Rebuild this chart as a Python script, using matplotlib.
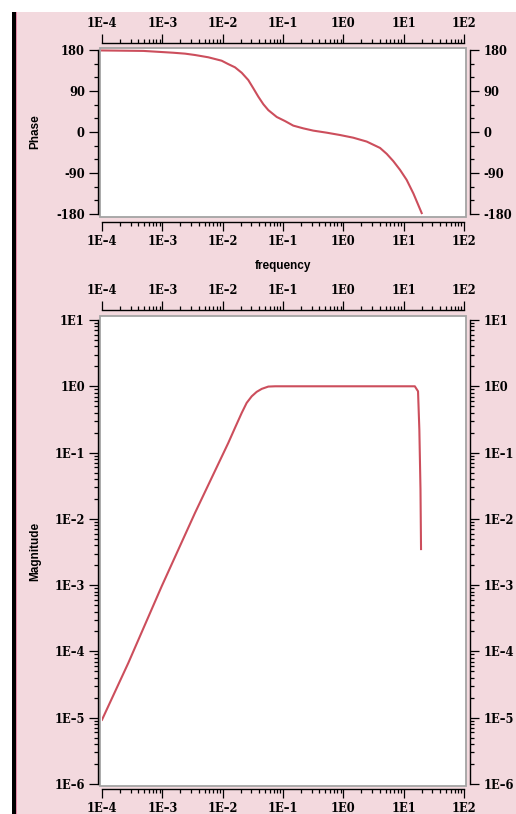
import matplotlib
matplotlib.use('Agg')
import matplotlib.pyplot as plt
from matplotlib.patches import Rectangle
from matplotlib.ticker import FixedLocator, LogLocator, MultipleLocator, NullFormatter, FixedFormatter

# values
phase_freq = [1e-4, 4.84e-4, 1.52e-3, 2.38e-3, 3.48e-3, 5.78e-3, 9.62e-3, 0.0124, 0.016,
              0.0207, 0.0266, 0.0322, 0.039, 0.0472, 0.0571, 0.0787, 0.108, 0.148, 0.217,
              0.318, 0.53, 0.88, 1.46, 2.44, 4.06, 5.24, 6.74, 8.69, 11.2, 14.5, 19.9]
phase_deg = [179, 178, 174, 172, 169, 164, 156.5, 149, 142,
             130, 114, 96, 77.5, 61, 48, 33, 24, 14, 8,
             3, -1.5, -6.6, -12.5, -21, -35, -48, -64, -83, -105, -135, -178]

mag_freq = [1e-4, 2.73e-4, 9.75e-4, 3.48e-3, 0.0124, 0.016, 0.0207, 0.025, 0.0303,
            0.0366, 0.0444, 0.0571, 0.074, 0.2, 1.0, 5.0, 15.3, 17.3, 18.2, 19.0, 19.4]
mag_val = [9.3e-6, 6.7e-5, 9.6e-4, 0.0123, 0.14, 0.236, 0.397, 0.562, 0.706,
           0.824, 0.914, 0.99, 1.0, 1.0, 1.0, 1.0, 1.0, 0.84, 0.22, 0.028, 0.0035]

freq_ticks = [1e-4, 1e-3, 1e-2, 1e-1, 1e0, 1e1, 1e2]
freq_labels = ['1E\u20134', '1E\u20133', '1E\u20132', '1E\u20131', '1E0', '1E1', '1E2']
phase_ticks = [-180, -90, 0, 90, 180]
phase_labels = ['-180', '-90', '0', '90', '180']
mag_ticks = [1e-6, 1e-5, 1e-4, 1e-3, 1e-2, 1e-1, 1e0, 1e1]
mag_labels = ['1E\u20136', '1E\u20135', '1E\u20134', '1E\u20133', '1E\u20132', '1E\u20131', '1E0', '1E1']

W, H = 516, 814
BG = '#f3d9de'
LINE = '#cc4e5c'
tick_font = dict(family='DejaVu Serif', weight='bold', size=8.3)
label_font = dict(family='Liberation Sans', weight='bold', size=8.5)

fig = plt.figure(figsize=(W / 100, H / 100), dpi=100, facecolor='white')


def px_rect(x0, y0, x1, y1):
    # pixel box (from top-left) -> figure fraction [left, bottom, width, height]
    return [x0 / W, 1 - y1 / H, (x1 - x0) / W, (y1 - y0) / H]


# pink panel and black bar on the left
fig.patches.append(Rectangle((12 / W, 0), 1, 1 - 12 / H, transform=fig.transFigure,
                             facecolor=BG, edgecolor='none', zorder=-3))
fig.patches.append(Rectangle((12 / W, 0), 3.5 / W, 1 - 12 / H, transform=fig.transFigure,
                             facecolor='black', edgecolor='none', zorder=-2))
fig.patches.append(Rectangle((15.5 / W, 0), 1.2 / W, 1 - 12 / H, transform=fig.transFigure,
                             facecolor='#e58aa8', edgecolor='none', zorder=-2))

# white plotting areas with grey frame
for box in [(100, 48, 466, 217), (100, 316, 466, 786)]:
    l, b, w, h = px_rect(*box)
    fig.patches.append(Rectangle((l, b), w, h, transform=fig.transFigure,
                                 facecolor='white', edgecolor='#a4a4a4', linewidth=1.3, zorder=-1))


def style_axes(ax, offsets):
    ax.patch.set_alpha(0)
    ax.set_zorder(2)
    for side, off in offsets.items():
        ax.spines[side].set_position(('outward', off * 0.72))
        ax.spines[side].set_linewidth(1.0)
    ax.tick_params(which='both', direction='out', top=True, right=True,
                   labeltop=True, labelright=True, colors='black', width=0.9)
    ax.tick_params(which='major', length=6.5, pad=3.0)
    ax.tick_params(which='minor', length=3)
    for lab in ax.get_xticklabels() + ax.get_yticklabels():
        lab.set_fontproperties(matplotlib.font_manager.FontProperties(**tick_font))


def freq_axis(ax):
    ax.set_xscale('log')
    ax.set_xlim(1e-4, 1e2)
    ax.xaxis.set_major_locator(FixedLocator(freq_ticks))
    ax.xaxis.set_major_formatter(FixedFormatter(freq_labels))
    ax.xaxis.set_minor_locator(LogLocator(base=10, subs=range(2, 10), numticks=20))
    ax.xaxis.set_minor_formatter(NullFormatter())


# phase plot
ax1 = fig.add_axes(px_rect(102, 50, 464, 214))
ax1.plot(phase_freq, phase_deg, color=LINE, linewidth=1.5, clip_on=False, zorder=3)
freq_axis(ax1)
ax1.set_ylim(-180, 180)
ax1.yaxis.set_major_locator(FixedLocator(phase_ticks))
ax1.yaxis.set_major_formatter(FixedFormatter(phase_labels))
ax1.yaxis.set_minor_locator(MultipleLocator(30))
style_axes(ax1, {'left': 4, 'right': 6, 'top': 7, 'bottom': 8})

# magnitude plot
ax2 = fig.add_axes(px_rect(102, 320, 464, 784))
ax2.plot(mag_freq, mag_val, color=LINE, linewidth=1.5, zorder=3)
freq_axis(ax2)
ax2.set_yscale('log')
ax2.set_ylim(1e-6, 1e1)
ax2.yaxis.set_major_locator(FixedLocator(mag_ticks))
ax2.yaxis.set_major_formatter(FixedFormatter(mag_labels))
ax2.yaxis.set_minor_locator(LogLocator(base=10, subs=range(2, 10), numticks=20))
ax2.yaxis.set_minor_formatter(NullFormatter())
style_axes(ax2, {'left': 4, 'right': 6, 'top': 10, 'bottom': 5})

fig.text(35 / W, 1 - 132 / H, 'Phase', rotation=90, ha='center', va='center', **label_font)
fig.text(283 / W, 1 - 266 / H, 'frequency', ha='center', va='center', **label_font)
fig.text(35 / W, 1 - 551 / H, 'Magnitude', rotation=90, ha='center', va='center', **label_font)

fig.savefig('out.png', dpi=100, facecolor='white')
